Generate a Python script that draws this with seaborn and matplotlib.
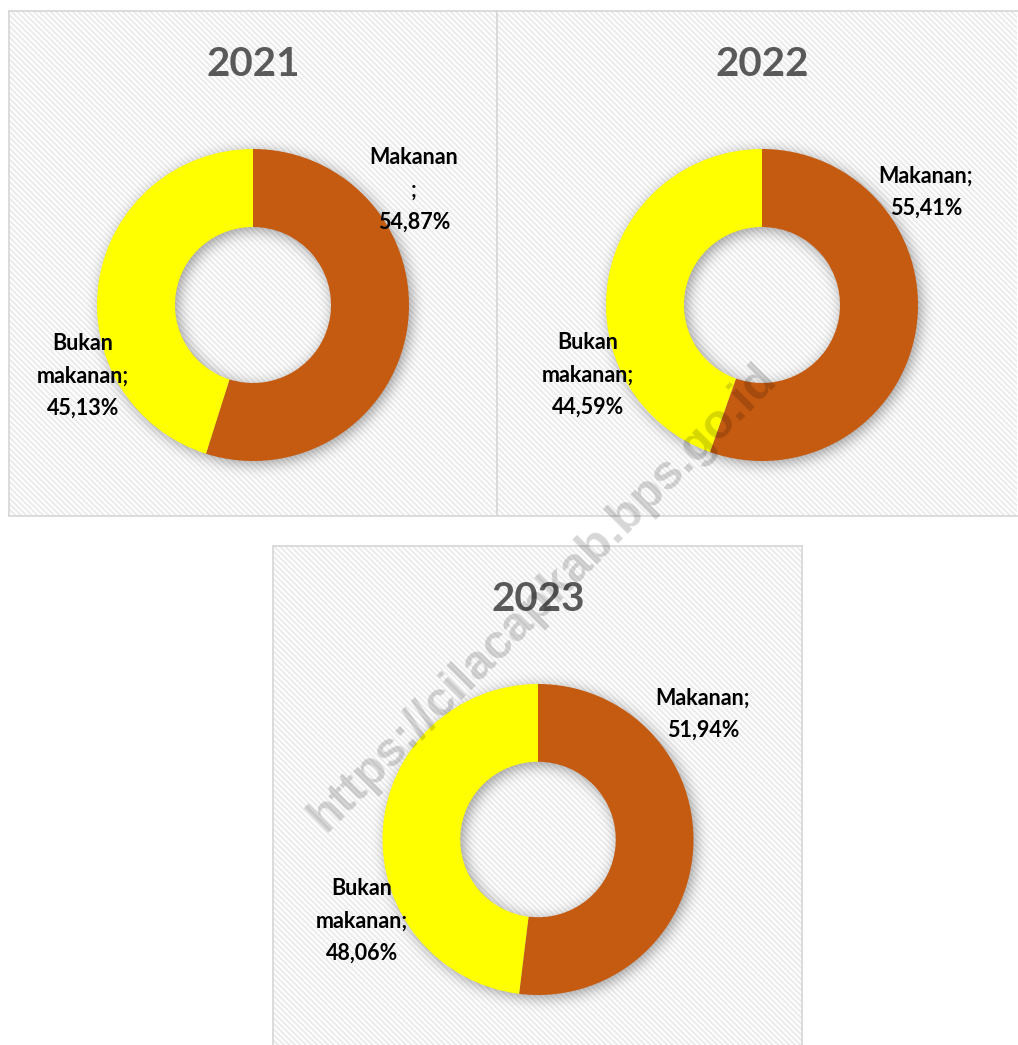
import numpy as np
import matplotlib
matplotlib.use("Agg")
import matplotlib.pyplot as plt
import seaborn as sns
from matplotlib.patches import Rectangle

# Share of expenditure (percent) by year
years = ["2021", "2022", "2023"]
categories = ["Makanan", "Bukan makanan"]
makanan = [54.87, 55.41, 51.94]
bukan_makanan = [45.13, 44.59, 48.06]

# Category names as they wrap in each panel's data labels
makanan_names = ["Makanan\n;", "Makanan;", "Makanan;"]
bukan_names = ["Bukan\nmakanan;", "Bukan\nmakanan;", "Bukan\nmakanan;"]

ORANGE = "#C55A11"
YELLOW = "#FFFF00"
TITLE_GREY = "#595959"
BORDER = "#D9D9D9"
HATCH = "#EBEBEB"

sns.set_theme(style="white")
plt.rcParams["font.family"] = ["Lato", "DejaVu Sans"]
plt.rcParams["hatch.linewidth"] = 1.4

W, H = 1018, 1045
fig = plt.figure(figsize=(W / 100, H / 100), dpi=100)
fig.patch.set_facecolor("white")

# Panel boxes in pixels (left, top, right, bottom), donut centre and radius
panels = [
    dict(box=(9, 11, 497, 516), centre=(253, 305), r=156,
         hide=[], mak_xy=(1.032, 0.737), buk_xy=(-1.090, -0.455)),
    dict(box=(497, 11, 1017, 516), centre=(762, 305), r=156,
         hide=["right"], mak_xy=(1.051, 0.721), buk_xy=(-1.115, -0.449)),
    dict(box=(273, 546, 802, 1045), centre=(538, 839.5), r=155.5,
         hide=["bottom"], mak_xy=(1.061, 0.804), buk_xy=(-1.132, -0.524)),
]


def gaussian_blur(a, sigma):
    rad = int(3 * sigma)
    t = np.arange(-rad, rad + 1)
    k = np.exp(-0.5 * (t / sigma) ** 2)
    k /= k.sum()
    a = np.apply_along_axis(lambda v: np.convolve(v, k, mode="same"), 0, a)
    a = np.apply_along_axis(lambda v: np.convolve(v, k, mode="same"), 1, a)
    return a


def pct(v):
    return f"{v:.2f}".replace(".", ",") + "%"


for i, p in enumerate(panels):
    x0, y0, x1, y1 = p["box"]
    cx, cy = p["centre"]
    r = p["r"]
    ax = fig.add_axes([x0 / W, 1 - y1 / H, (x1 - x0) / W, (y1 - y0) / H])

    ax.pie([makanan[i], bukan_makanan[i]], colors=[ORANGE, YELLOW],
           startangle=90, counterclock=False, radius=1,
           wedgeprops=dict(width=0.5, linewidth=0, zorder=3))

    xlim = ((x0 - cx) / r, (x1 - cx) / r)
    ylim = ((cy - y1) / r, (cy - y0) / r)

    # hatched panel background
    ax.add_patch(Rectangle((0, 0), 1, 1, transform=ax.transAxes,
                           facecolor="white", edgecolor=HATCH,
                           hatch="\\" * 6, linewidth=0, zorder=0))

    # soft drop shadow under the ring
    nx, ny = x1 - x0, y1 - y0
    xs = np.linspace(xlim[0], xlim[1], nx)
    ys = np.linspace(ylim[0], ylim[1], ny)
    XX, YY = np.meshgrid(xs, ys)
    off = 3.0 / r
    d = np.hypot(XX - off, YY + off)
    ring = ((d <= 1.0) & (d >= 0.5)).astype(float)
    shade = gaussian_blur(ring, 7.0)
    rgba = np.zeros((ny, nx, 4))
    rgba[..., 3] = shade * 0.38
    ax.imshow(rgba, extent=(xlim[0], xlim[1], ylim[0], ylim[1]),
              origin="lower", interpolation="bilinear", aspect="auto", zorder=1)

    ax.set_aspect("auto")
    ax.set_xlim(*xlim)
    ax.set_ylim(*ylim)
    ax.set_xticks([])
    ax.set_yticks([])
    ax.set_frame_on(True)
    for side, sp in ax.spines.items():
        sp.set_color(BORDER)
        sp.set_linewidth(1.3)
        sp.set_visible(side not in p["hide"])
        sp.set_zorder(5)

    ax.text(0, (cy - 76) / r if i < 2 else (cy - 611) / r, years[i],
            ha="center", va="baseline", fontsize=29, fontweight="bold",
            color=TITLE_GREY, zorder=6)

    mx, my = p["mak_xy"]
    ax.text(mx, my, f"{makanan_names[i]}\n{pct(makanan[i])}",
            ha="center", va="center", multialignment="center",
            fontsize=15.5, fontweight="bold", color="black",
            linespacing=1.65, zorder=6)
    bx, by = p["buk_xy"]
    ax.text(bx, by, f"{bukan_names[i]}\n{pct(bukan_makanan[i])}",
            ha="center", va="center", multialignment="center",
            fontsize=15.5, fontweight="bold", color="black",
            linespacing=1.65, zorder=6)

fig.text(543 / W, 1 - 598 / H, "https://cilacapkab.bps.go.id",
         rotation=45, rotation_mode="anchor", ha="center", va="center",
         fontsize=35, fontweight="bold", family=["Liberation Sans", "DejaVu Sans"],
         color=(0, 0, 0, 0.16), zorder=10)

fig.savefig("out.png", dpi=100, facecolor="white")
